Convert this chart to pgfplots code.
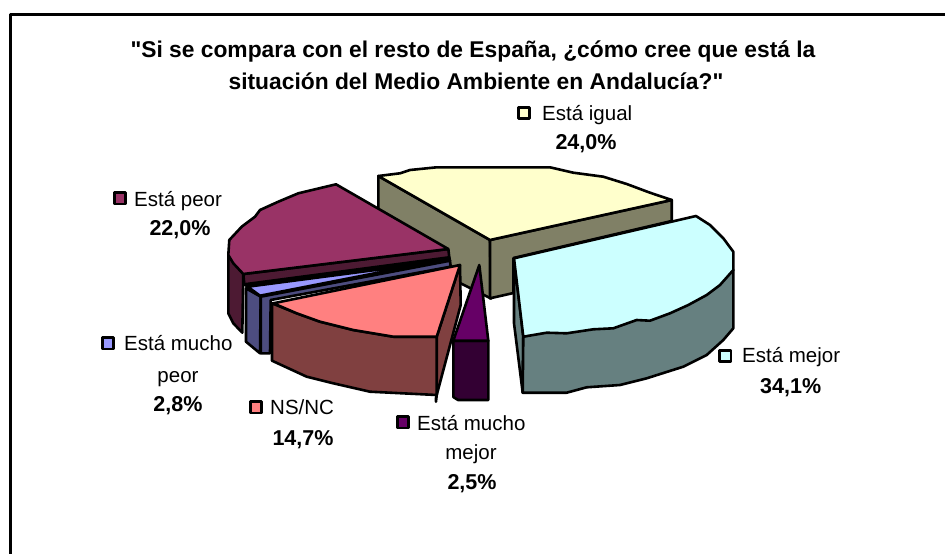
\documentclass[border=0pt]{standalone}
\usepackage{pgfplots}
\pgfplotsset{compat=1.18}
\usepackage{fontspec}
\setmainfont{Liberation Sans}[Ligatures=TeXOff]
\definecolor{cIg}{HTML}{FFFFCC}\definecolor{cIgD}{HTML}{808066}
\definecolor{cMe}{HTML}{CCFFFF}\definecolor{cMeD}{HTML}{668080}
\definecolor{cPe}{HTML}{993366}\definecolor{cPeD}{HTML}{4D1A33}
\definecolor{cMp}{HTML}{9999FF}\definecolor{cMpD}{HTML}{4D4D80}
\definecolor{cNs}{HTML}{FF8080}\definecolor{cNsD}{HTML}{804040}
\definecolor{cMm}{HTML}{660066}\definecolor{cMmD}{HTML}{330033}
\newcommand{\lab}{\fontsize{20.5}{20.5}\selectfont}
\newcommand{\labb}{\fontsize{21.5}{21.5}\selectfont\bfseries}
\newcommand{\ttl}{\fontsize{22.8}{22.8}\selectfont\bfseries}
\begin{document}
\begin{tikzpicture}[x=1pt,y=1pt]
\path[use as bounding box] (0,0) rectangle (945,554);
\begin{axis}[
  at={(0,0)},anchor=south west,
  width=945pt,height=554pt,scale only axis,
  xmin=0,xmax=945,ymin=0,ymax=554,y dir=reverse,
  hide axis,clip=false,
  every axis plot/.append style={draw=black,line width=2.6pt,line join=round,forget plot},
  key/.style={only marks,mark=square*,mark size=5.6pt,mark options={fill=#1,draw=black,line width=2.8pt}},
]
% frame
\addplot[line width=3pt] coordinates {(10.5,554)(10.5,14)(945,14)};
% Esta igual: cut faces
\addplot[fill=cIgD] coordinates {(378.3,176)(490,240)(491,298.5)(460,283)(378.3,232)} --cycle;
\addplot[fill=cIgD] coordinates {(490,240)(671.7,200)(671.7,221)(513.5,258)(513.5,293)(490,298.3)} --cycle;
\addplot[fill=cIg] coordinates {(378.3,176)(400,173.3)(410,170)(436.7,167.3)(550,167.3)(573.3,172.7)(603.3,176.7)(626.7,184)(650,192.7)(671.7,200)(490,240)} --cycle;
% Esta mejor
\addplot[fill=cMeD] coordinates {(514,258.3)(514,323.3)(522.7,392.7)(523.3,336.7)} --cycle;
\addplot[fill=cMeD] coordinates {(733.3,270)(733.3,328.3)(723.3,340)(706.7,355)(683.3,366.7)(646.7,378.3)(620,385)(586.7,387.3)(566.7,392.7)(522.7,392.7)(523.3,336.7)} --cycle;
\addplot[fill=cMe] coordinates {(514,258.3)(696,216)(710,225)(723.3,238.3)(733.3,251.7)(733.3,270)(720,285)(706.7,295)(688.3,305)(670,313.3)(650,320.7)(636.7,320)(613.3,328.3)(593.3,329.3)(566.7,333.3)(546.7,332.7)(523.3,336.7)} --cycle;
% black joint between the thin slices
\addplot[fill=black] coordinates {(244.3,284.3)(449.3,257.3)(450,261)(260.7,297)} --cycle;
% Esta peor
\addplot[fill=cPeD] coordinates {(228.3,255)(228.3,313.3)(233.3,323.3)(242.3,332.7)(243.3,274)} --cycle;
\addplot[fill=cPeD] coordinates {(243.3,274)(448.3,249)(449.3,257.3)(244.3,284.3)} --cycle;
\addplot[fill=cPe] coordinates {(336,184.3)(298.3,193.3)(278.3,201.7)(260,210)(255,216.7)(241.7,226.7)(229.3,240)(228.3,255)(233.3,263.3)(243.3,274)(448.3,249)} --cycle;
% Esta mucho peor
\addplot[fill=cMpD] coordinates {(246,288.3)(246,341.7)(260,353.3)(260.7,296.7)} --cycle;
\addplot[fill=cMpD] coordinates {(260.7,296.7)(450,260.7)(450.7,266.7)(270.7,300)(270,353.3)(260.7,353.3)} --cycle;
\addplot[fill=cMp] coordinates {(247.7,286.7)(260,295.7)(425,263.5)} --cycle;
% NS/NC
\addplot[fill=cNsD] coordinates {(436.7,336.7)(460,265)(460.7,305)(436.7,395)(436,401.7)} --cycle;
\addplot[fill=cNsD] coordinates {(272,303.3)(272,360.7)(306.7,376.7)(333.3,383.3)(370,391.7)(436.7,395)(436.7,336.7)(393.3,336.7)(353.3,330)(320,321.7)(296.7,313.3)} --cycle;
\addplot[fill=cNs] coordinates {(273.3,303.3)(296.7,313.3)(320,321.7)(353.3,330)(393.3,336.7)(436.7,336.7)(460,265)} --cycle;
% Esta mucho mejor
\addplot[fill=cMmD] coordinates {(453.3,340.7)(488.3,340.7)(488.3,400)(458,400)(453.3,397)} --cycle;
\addplot[fill=cMm] coordinates {(479.3,265)(488.3,340.7)(453.3,340.7)} --cycle;
% legend keys
\addplot[key=cIg] coordinates {(524,113)};
\addplot[key=cMe] coordinates {(725.3,355.7)};
\addplot[key=cPe] coordinates {(120,198.3)};
\addplot[key=cMp] coordinates {(107.7,343.3)};
\addplot[key=cNs] coordinates {(256,407.3)};
\addplot[key=cMm] coordinates {(402.7,422.3)};
% title
\node[anchor=base,font=\ttl] at (axis cs:473,57) {"Si se compara con el resto de España, ¿cómo cree que está la};
\node[anchor=base,font=\ttl] at (axis cs:476,89) {situación del Medio Ambiente en Andalucía?"};
% labels
\node[anchor=base west,inner sep=0pt,font=\lab] at (axis cs:542,120) {Está igual};
\node[anchor=base,font=\labb] at (axis cs:586,149) {24,0\%};
\node[anchor=base west,inner sep=0pt,font=\lab] at (axis cs:742,362.7) {Está mejor};
\node[anchor=base,font=\labb] at (axis cs:790.7,393.3) {34,1\%};
\node[anchor=base west,inner sep=0pt,font=\lab] at (axis cs:134,206) {Está peor};
\node[anchor=base,font=\labb] at (axis cs:180,235) {22,0\%};
\node[anchor=base west,inner sep=0pt,font=\lab] at (axis cs:124,350) {Está mucho};
\node[anchor=base,font=\lab] at (axis cs:178,382.3) {peor};
\node[anchor=base,font=\labb] at (axis cs:178,411) {2,8\%};
\node[anchor=base west,inner sep=0pt,font=\lab] at (axis cs:270,414.3) {NS/NC};
\node[anchor=base,font=\labb] at (axis cs:303,445.7) {14,7\%};
\node[anchor=base west,inner sep=0pt,font=\lab] at (axis cs:417,430) {Está mucho};
\node[anchor=base,font=\lab] at (axis cs:471,459) {mejor};
\node[anchor=base,font=\labb] at (axis cs:472,489) {2,5\%};
\end{axis}
\end{tikzpicture}
\end{document}
